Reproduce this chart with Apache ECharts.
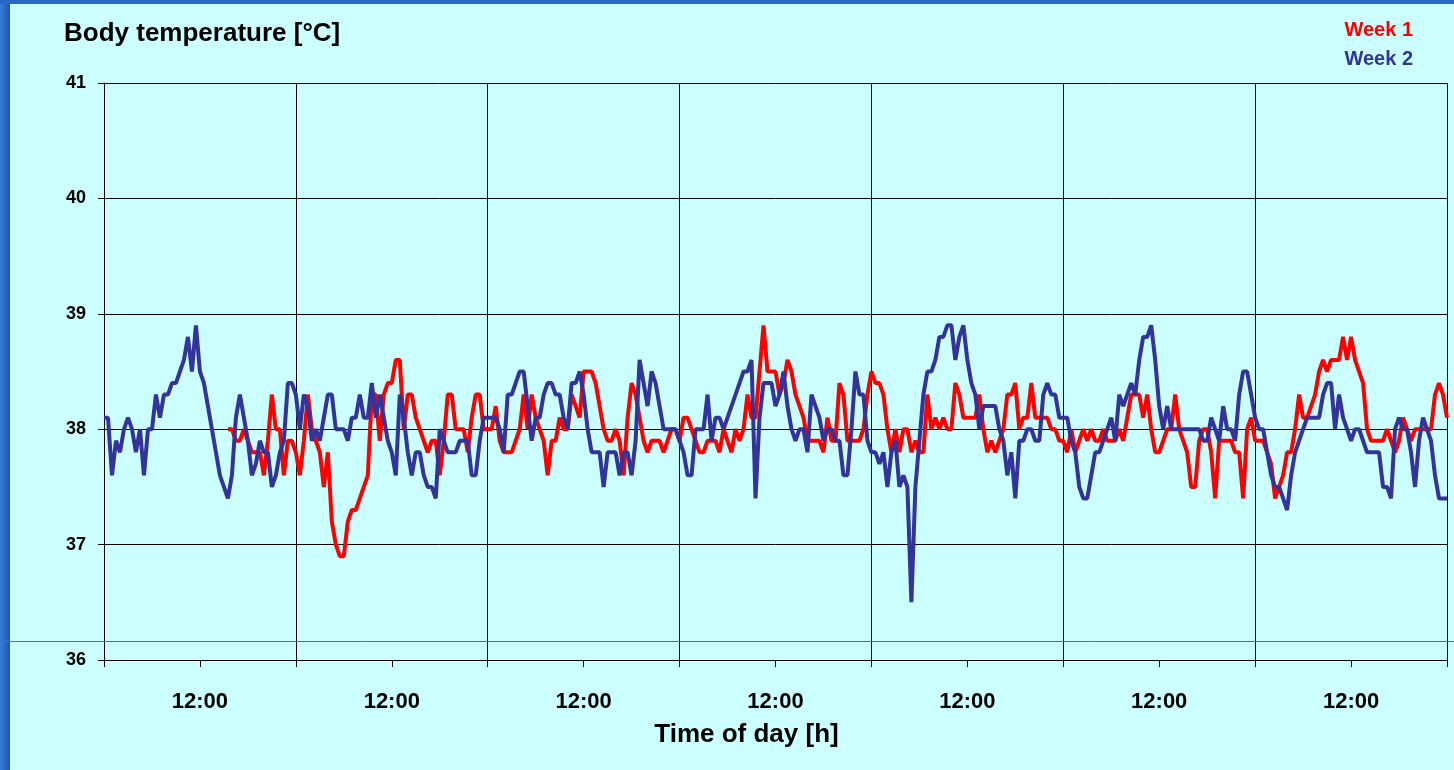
<!DOCTYPE html>
<html>
<head>
<meta charset="utf-8">
<title>Body temperature</title>
<script src="https://cdn.jsdelivr.net/npm/echarts@6/dist/echarts.min.js"></script>
<style>
  html, body { margin: 0; padding: 0; background: #ccffff; }
  #chart { width: 1454px; height: 770px; }
</style>
</head>
<body>
<div id="chart"></div>
<script>
// half-hour readings, index 0 = 00:00 of the first day
const slotsPerDay = 48;
const days = 7;

// week 1 starts at slot 31 (15:30 on day 1)
const week1Start = 31;
const week1 = [
  38.0,38.0,37.9,37.9,38.0,37.9,37.8,37.8,37.8,
  37.6,37.9,38.3,38.0,38.0,37.6,37.9,37.9,
  // day 2
  37.8,37.6,37.9,38.3,38.0,37.9,37.8,37.5,37.8,37.2,
  37.0,36.9,36.9,37.2,37.3,37.3,37.4,37.5,37.6,38.3,
  38.3,37.9,38.3,38.4,38.4,38.6,38.6,38.0,38.3,38.3,
  38.1,38.0,37.9,37.8,37.9,37.9,37.6,37.9,38.3,38.3,
  38.0,38.0,38.0,37.8,38.1,38.3,38.3,38.0,
  // day 3
  38.0,38.0,38.2,37.9,37.8,37.8,37.8,37.9,38.0,38.3,
  38.0,38.3,38.1,38.0,37.9,37.6,37.9,37.9,38.1,38.0,
  38.0,38.3,38.2,38.1,38.5,38.5,38.5,38.4,38.2,38.0,
  37.9,37.9,38.0,37.9,37.6,38.1,38.4,38.3,38.1,37.9,
  37.8,37.9,37.9,37.9,37.8,37.9,38.0,38.0,
  // day 4
  37.9,38.1,38.1,38.0,37.9,37.8,37.8,37.9,37.9,37.9,
  37.8,38.0,37.9,37.8,38.0,37.9,38.0,38.3,38.1,38.1,
  38.5,38.9,38.5,38.5,38.5,38.3,38.4,38.6,38.5,38.3,
  38.2,38.1,37.9,37.9,37.9,37.9,37.8,38.1,37.9,37.9,
  38.4,38.3,37.9,37.9,37.9,37.9,38.0,38.3,
  // day 5
  38.5,38.4,38.4,38.3,38.0,37.8,38.0,37.8,38.0,38.0,
  37.8,37.9,37.8,37.8,38.3,38.0,38.1,38.0,38.1,38.0,
  38.0,38.4,38.3,38.1,38.1,38.1,38.1,38.3,38.0,37.8,
  37.9,37.8,37.9,38.0,38.3,38.3,38.4,38.0,38.1,38.1,
  38.4,38.1,38.1,38.1,38.1,38.0,38.0,37.9,
  // day 6
  37.9,37.8,38.0,37.8,37.9,38.0,37.9,38.0,37.9,37.9,
  38.0,37.9,37.9,37.9,38.0,37.9,38.1,38.3,38.3,38.3,
  38.1,38.3,38.0,37.8,37.8,37.9,38.0,38.0,38.3,38.0,
  37.9,37.8,37.5,37.5,37.9,38.0,38.0,37.8,37.4,37.9,
  37.9,37.9,37.9,37.8,37.8,37.4,38.0,38.1,
  // day 7
  37.9,37.9,37.9,37.8,37.7,37.4,37.5,37.6,37.8,37.8,
  38.0,38.3,38.1,38.1,38.2,38.3,38.5,38.6,38.5,38.6,
  38.6,38.6,38.8,38.6,38.8,38.6,38.5,38.4,38.0,37.9,
  37.9,37.9,37.9,38.0,37.9,37.8,37.9,38.1,38.0,37.9,
  38.0,38.0,38.0,38.0,38.0,38.3,38.4,38.3,38.1
];

const week2 = [
  // day 1
  38.1,38.1,37.6,37.9,37.8,38.0,38.1,38.0,37.8,38.0,
  37.6,38.0,38.0,38.3,38.1,38.3,38.3,38.4,38.4,38.5,
  38.6,38.8,38.5,38.9,38.5,38.4,38.2,38.0,37.8,37.6,
  37.5,37.4,37.6,38.1,38.3,38.1,37.9,37.6,37.7,37.9,
  37.8,37.8,37.5,37.6,37.8,37.9,38.4,38.4,
  // day 2
  38.3,38.0,38.3,38.2,37.9,38.0,37.9,38.1,38.3,38.3,
  38.0,38.0,38.0,37.9,38.1,38.1,38.3,38.1,38.1,38.4,
  38.1,38.3,38.1,37.9,37.8,37.6,38.3,38.1,37.8,37.6,
  37.8,37.8,37.6,37.5,37.5,37.4,38.0,37.9,37.8,37.8,
  37.8,37.9,37.9,37.9,37.6,37.6,37.9,38.1,
  // day 3
  38.1,38.1,38.1,38.0,37.8,38.3,38.3,38.4,38.5,38.5,
  38.2,37.9,38.1,38.1,38.3,38.4,38.4,38.3,38.3,38.1,
  38.0,38.4,38.4,38.5,38.3,38.0,37.8,37.8,37.8,37.5,
  37.8,37.8,37.8,37.6,37.8,37.8,37.6,37.9,38.6,38.4,
  38.2,38.5,38.4,38.2,38.0,38.0,38.0,38.0,
  // day 4
  37.9,37.8,37.6,37.6,38.0,38.0,38.0,38.3,37.9,38.1,
  38.1,38.0,38.1,38.2,38.3,38.4,38.5,38.5,38.6,37.4,
  38.1,38.4,38.4,38.4,38.2,38.3,38.5,38.2,38.0,37.9,
  38.0,38.0,37.8,38.3,38.2,38.1,37.9,38.0,38.0,37.9,
  37.9,37.6,37.6,38.0,38.5,38.3,38.3,37.9,
  // day 5
  37.8,37.8,37.7,37.8,37.5,37.8,37.9,37.5,37.6,37.5,
  36.5,37.5,37.9,38.3,38.5,38.5,38.6,38.8,38.8,38.9,
  38.9,38.6,38.8,38.9,38.6,38.4,38.3,38.0,38.2,38.2,
  38.2,38.2,38.0,37.9,37.6,37.8,37.4,37.9,37.9,38.0,
  38.0,37.9,37.9,38.3,38.4,38.3,38.3,38.1,
  // day 6
  38.1,38.1,37.9,37.8,37.5,37.4,37.4,37.6,37.8,37.8,
  37.9,38.0,38.1,37.9,38.3,38.2,38.3,38.4,38.3,38.6,
  38.8,38.8,38.9,38.6,38.2,38.0,38.2,38.0,38.0,38.0,
  38.0,38.0,38.0,38.0,38.0,37.9,37.9,38.1,38.0,37.9,
  38.2,38.0,38.0,37.9,38.3,38.5,38.5,38.3,
  // day 7
  38.1,38.0,38.0,37.8,37.6,37.5,37.5,37.4,37.3,37.6,
  37.8,37.9,38.0,38.1,38.1,38.1,38.1,38.3,38.4,38.4,
  38.0,38.3,38.1,38.0,37.9,38.0,38.0,37.9,37.8,37.8,
  37.8,37.8,37.5,37.5,37.4,38.0,38.1,38.0,38.0,37.8,
  37.5,37.9,38.1,38.0,37.9,37.6,37.4,37.4,37.4
];

// clock time of every slot, "00:00", "00:30", ...
const times = [];
for (let i = 0; i <= days * slotsPerDay; i++) {
  const min = (i % slotsPerDay) * 30;
  times.push(String(Math.floor(min / 60)).padStart(2, '0') + ':' + String(min % 60).padStart(2, '0'));
}

const week1Data = new Array(week1Start).fill(null).concat(week1);

const chart = echarts.init(document.getElementById('chart'));

const option = {
  backgroundColor: '#ccffff',
  animation: false,
  textStyle: { fontFamily: '"Liberation Sans", Arial, sans-serif' },
  title: {
    text: 'Body temperature [°C]',
    left: 59,
    top: 16,
    textStyle: { fontSize: 26, fontWeight: 'bold', color: '#000' }
  },
  legend: {
    orient: 'vertical',
    right: 36,
    top: 15,
    itemGap: 9,
    itemWidth: 0,
    icon: 'none',
    lineStyle: { opacity: 0 },
    textStyle: { fontSize: 20, fontWeight: 'bold' },
    data: [
      { name: 'Week 1', textStyle: { color: '#ff0000' } },
      { name: 'Week 2', textStyle: { color: '#333399' } }
    ]
  },
  grid: { left: 104, right: 7, top: 83, bottom: 110 },
  xAxis: {
    type: 'category',
    data: times,
    boundaryGap: false,
    name: 'Time of day [h]',
    nameLocation: 'middle',
    nameGap: 62,
    nameTextStyle: { fontSize: 26, fontWeight: 'bold', color: '#000', padding: [0, 58, 0, 0] },
    axisLine: { lineStyle: { color: '#000', width: 1 } },
    axisTick: {
      interval: (i) => i % (slotsPerDay / 2) === 0,
      length: 7,
      lineStyle: { color: '#000' }
    },
    axisLabel: {
      interval: (i) => i % slotsPerDay === slotsPerDay / 2,
      fontSize: 22,
      fontWeight: 'bold',
      color: '#000',
      margin: 31
    },
    splitLine: {
      show: true,
      interval: (i) => i % slotsPerDay === 0,
      lineStyle: { color: '#000', width: 1 }
    }
  },
  yAxis: {
    type: 'value',
    min: 36,
    max: 41,
    interval: 1,
    axisLine: { show: true, lineStyle: { color: '#000' } },
    axisTick: { show: true, length: 6, lineStyle: { color: '#000' } },
    axisLabel: { fontSize: 18, fontWeight: 'bold', color: '#000', margin: 18 },
    splitLine: { lineStyle: { color: '#000', width: 1 } }
  },
  series: [
    {
      name: 'Week 1',
      type: 'line',
      data: week1Data,
      symbol: 'none',
      lineStyle: { color: '#ff0000', width: 4 },
      itemStyle: { color: '#ff0000' }
    },
    {
      name: 'Week 2',
      type: 'line',
      data: week2,
      symbol: 'none',
      lineStyle: { color: '#333399', width: 4 },
      itemStyle: { color: '#333399' }
    }
  ],
  // slide frame round the chart
  graphic: [
    {
      type: 'rect', left: 0, top: 0, z: 100,
      shape: { width: 10, height: 770 },
      style: { fill: new echarts.graphic.LinearGradient(0, 0, 1, 0, [
        { offset: 0, color: '#3a7fd8' }, { offset: 1, color: '#1b55b0' }
      ]) }
    },
    {
      type: 'rect', left: 0, top: 0, z: 100,
      shape: { width: 1454, height: 4 },
      style: { fill: '#2a68c8' }
    },
    {
      type: 'line', z: 100,
      shape: { x1: 0, y1: 641.5, x2: 1454, y2: 641.5 },
      style: { stroke: '#3a74c4', lineWidth: 1 }
    }
  ]
};

chart.setOption(option);
</script>
</body>
</html>
